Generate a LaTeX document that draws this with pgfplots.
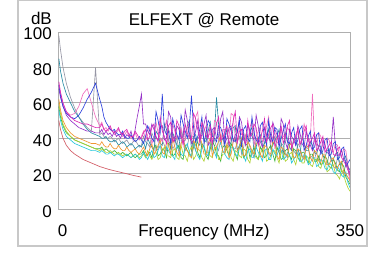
\documentclass[border=0pt]{standalone}
\usepackage{pgfplots}
\pgfplotsset{compat=1.18}
\usepackage{pgfplotstable}
\usepackage{fontspec}
\setmainfont{Liberation Sans}
\newcommand\fs{\fontsize{17bp}{20bp}\selectfont}
\definecolor{cgray}{RGB}{150,150,165}
\definecolor{cteal}{RGB}{40,140,165}
\definecolor{cmag}{RGB}{220,40,180}
\definecolor{cblue}{RGB}{45,65,220}
\definecolor{cpurp}{RGB}{150,50,200}
\definecolor{cpink}{RGB}{240,110,190}
\definecolor{ccyan}{RGB}{40,200,220}
\definecolor{cgreen}{RGB}{60,180,60}
\definecolor{cyell}{RGB}{175,210,50}
\definecolor{corng}{RGB}{240,150,50}
\definecolor{cred}{RGB}{210,90,100}
\definecolor{framec}{RGB}{200,200,200}
\definecolor{gridc}{RGB}{175,175,175}
\pgfplotstableread{
x a b c d e f g h i j
1 98 85 72 70 68 70 56 58 60 62
3 90 78 66 64 63 65 50 52 54 56
6 80 71 60 58 58 59 45 47 48 50
10 71 65 55 54 53 55 41 43 44 46
15 63 60 52 52 50 53 39 41 41 43
20 57 55 50 51 48 54 37 39 39 41
25 52 52 49 53 46 58 36 38 38 40
30 49 48 48 57 45 65 35 37 37 39
35 46 45 48 62 44 68 34 36 36 38
40 44 43 47 66 44 60 33 35 35 37
45 80 42 46 71 43 52 33 34 34 37
50 42 41 46 62 43 47 32 34 33 36
52.5 43 40 48 58 45 49 33 35 34 38
55 41 40 45 52 42 45 32 33 33 36
57.5 40 41 44 49 44 46 31 34 32 35
60 40 39 45 47 42 44 31 33 32 35
62.5 41 38 47 45 43 46 32 32 33 37
65 40 38 44 44 41 44 31 32 32 35
67.5 38 39 43 45 44 42 30 33 31 34
70 39 38 44 43 41 43 31 32 31 34
72.5 40 36 46 42 42 45 31 31 32 36
75 38 37 43 42 40 43 30 31 31 34
77.5 37 38 42 44 43 41 29 32 30 33
80 38 37 44 41 40 42 30 31 31 33
82.5 39 35 45 40 42 44 31 30 31 35
85 37 36 42 40 41 41 30 31 30 33
87.5 36 37 41 42 44 40 29 32 29 32
90 38 36 41 40 39 41 30 30 30 33
92.5 39 34 44 38 45 43 31 29 31 34
95 37 35 42 39 52 40 30 30 30 32
97.5 35 36 40 41 58 39 28 31 29 31
100 36 35 40 39 65 41 29 31 30 33
102.5 41 38 43 37 48 44 32 33 31 35
105 38 34 45 41 48 39 30 30 29 32
107.5 37 40 39 47 44 42 28 31 33 30
110 35 37 41 44 42 46 31 32 30 34
112.5 43 35 46 40 48 37 33 29 28 37
115 40 33 48 38 45 40 29 35 31 31
117.5 33 44 40 55 41 49 30 36 32 33
120 34 42 39 50 38 43 33 30 28 36
122.5 40 37 52 43 46 40 36 31 29 39
125 39 36 44 65 47 38 30 34 33 32
127.5 36 48 41 45 39 45 29 33 35 31
130 33 45 37 42 40 50 35 29 30 38
132.5 45 39 47 44 55 38 33 37 30 36
135 42 34 49 37 52 36 31 38 29 31
137.5 34 43 38 51 42 48 30 30 33 40
140 36 40 40 46 38 44 28 31 34 35
142.5 41 36 50 42 47 40 36 34 29 32
145 31 35 47 39 45 41 34 36 28 30
147.5 37 45 42 53 40 46 31 29 36 37
150 44 38 36 48 41 37 30 28 31 39
152.5 33 39 48 44 56 39 35 36 30 34
155 35 47 43 40 50 46 37 33 27 33
157.5 42 50 40 47 43 49 32 31 33 30
160 38 33 39 64 37 40 29 30 35 29
162.5 36 41 54 46 39 42 38 35 28 39
165 33 42 51 38 44 52 33 39 30 36
167.5 40 37 45 41 50 55 30 32 34 33
170 41 36 38 45 39 38 28 29 33 41
172.5 34 46 49 52 42 41 34 37 29 37
175 36 39 46 37 48 44 36 35 27 31
177.5 44 38 41 43 53 47 31 30 32 31
180 30 44 40 50 36 41 30 28 32 37
182.5 35 49 47 48 38 43 37 34 30 40
185 43 34 37 41 45 36 34 38 29 30
187.5 39 42 43 40 46 50 32 36 35 34
190 35 63 48 38 40 49 29 31 34 35
192.5 33 48 52 47 41 39 40 30 28 38
195 39 37 39 46 51 38 37 27 28 42
197.5 42 40 40 42 55 45 33 35 31 32
200 32 41 44 36 37 45 31 36 31 32
202.5 36 45 47 51 40 42 29 33 36 37
205 40 35 36 48 46 40 28 30 35 29
207.5 40 38 42 44 47 54 35 37 29 31
210 34 46 50 39 38 53 35 34 27 38
212.5 34 47 55 38 42 40 31 31 33 40
215 38 33 38 44 43 37 30 28 32 33
217.5 41 36 44 50 52 47 36 35 30 35
220 31 39 45 35 49 42 33 37 29 40
222.5 35 43 39 45 40 43 30 29 34 30
225 42 36 37 47 36 39 27 31 33 30
227.5 39 37 50 40 48 38 33 36 28 38
230 35 44 41 38 44 46 34 29 26 36
232.5 32 46 43 52 41 50 29 32 33 33
235 29 32 48 43 39 36 29 35 31 31
237.5 40 35 46 39 53 41 35 30 29 37
240 39 40 36 37 47 44 32 28 28 38
242.5 35 42 40 47 38 46 30 35 31 31
245 33 35 44 49 35 38 27 33 34 29
247.5 38 37 51 41 46 39 33 29 35 36
250 37 42 38 36 42 47 34 30 27 35
252.5 31 45 42 50 40 52 28 34 28 32
255 30 34 46 41 38 37 28 36 30 31
257.5 39 36 48 38 49 41 34 31 32 38
260 41 39 35 46 45 43 31 27 33 37
262.5 34 41 39 45 42 38 30 35 29 30
265 32 45 42 35 37 36 35 32 26 28
267.5 37 37 46 40 51 47 33 28 33 35
270 36 31 37 44 48 41 28 29 31 34
272.5 31 43 41 48 38 40 29 33 27 31
275 29 38 47 38 34 46 32 34 28 30
277.5 36 35 50 37 45 44 31 30 31 37
280 38 33 34 43 41 35 26 28 32 36
282.5 33 40 38 46 39 38 28 34 28 29
285 31 40 41 36 36 42 30 33 25 29
287.5 37 34 45 39 47 45 32 29 31 34
290 35 30 36 45 43 37 27 27 30 33
292.5 30 41 39 47 37 40 27 32 26 30
295 28 37 44 33 35 48 31 32 26 28
297.5 35 33 47 36 44 43 30 28 30 36
300 34 33 35 41 40 38 25 26 29 35
302.5 29 38 38 44 36 40 26 31 25 29
305 30 36 40 34 33 65 29 31 24 27
307.5 33 32 43 35 41 38 29 27 28 33
310 27 31 33 42 38 36 24 27 28 32
312.5 28 36 35 43 34 43 25 30 24 27
315 33 35 38 31 32 41 28 25 23 26
317.5 31 30 41 33 39 35 27 26 27 31
320 26 29 32 39 36 34 23 30 27 31
322.5 25 33 34 40 32 40 22 28 21 25
325 31 34 36 30 31 39 26 24 22 25
327.5 29 27 38 31 36 33 25 23 24 28
330 24 28 31 37 52 32 21 28 25 29
332.5 23 31 30 38 35 37 20 26 20 24
335 29 32 34 28 30 36 24 22 19 23
337.5 27 25 35 29 31 30 22 21 17 26
340 22 26 29 34 33 30 19 26 22 27
342.5 20 28 27 35 28 34 18 24 19 21
345 26 30 25 24 27 33 21 18 15 20
347.5 23 24 22 26 24 25 15 16 12 18
350 15 22 19 28 20 17 12 14 10 16
}\spectra
\begin{document}
\begin{tikzpicture}[x=1bp,y=1bp]
\useasboundingbox (-58,-46) rectangle (319,209);
\draw[framec, line width=1.2bp] (-40,-37) rectangle (309,208.4);
\begin{axis}[name=ax, at={(0,0)}, anchor=south west,
  scale only axis, width=292bp, height=177bp,
  xmin=0, xmax=350, ymin=0, ymax=100,
  xtick={0,350}, xticklabels={{\makebox[0pt][l]{0}},350},
  ytick={0,20,40,60,80,100},
  ymajorgrids, grid style={gridc, line width=0.7bp},
  axis line style={gridc, line width=0.9bp},
  major tick length=0pt,
  /pgf/number format/assume math mode=true,
  tick label style={font=\fs, inner sep=0pt},
  yticklabel style={anchor=base east, xshift=-6bp, yshift=-8bp},
  xticklabel style={anchor=base, yshift=-27bp},
  every axis plot/.append style={line width=0.65bp, mark=none},
  clip=true]
\addplot[cgray] table[x=x,y=a] {\spectra};
\addplot[cteal] table[x=x,y=b] {\spectra};
\addplot[cgreen] table[x=x,y=h] {\spectra};
\addplot[cyell] table[x=x,y=i] {\spectra};
\addplot[ccyan] table[x=x,y=g] {\spectra};
\addplot[corng] table[x=x,y=j] {\spectra};
\addplot[cpink] table[x=x,y=f] {\spectra};
\addplot[cpurp] table[x=x,y=e] {\spectra};
\addplot[cblue] table[x=x,y=d] {\spectra};
\addplot[cmag] table[x=x,y=c] {\spectra};
\addplot[cred] coordinates {(1,50) (3,45) (6,40) (10,36) (15,33) (20,31) (30,28) (40,26) (50,24) (60,22.5) (70,21.3) (80,20.2) (90,19) (100,18)};
\end{axis}
\node[font=\fs, anchor=base] at (146,184) {ELFEXT @ Remote};
\node[font=\fs, anchor=base east, inner sep=0pt] at (-6,185) {dB};
\node[font=\fs, anchor=base] at (146,-27) {Frequency (MHz)};
\end{tikzpicture}
\end{document}
